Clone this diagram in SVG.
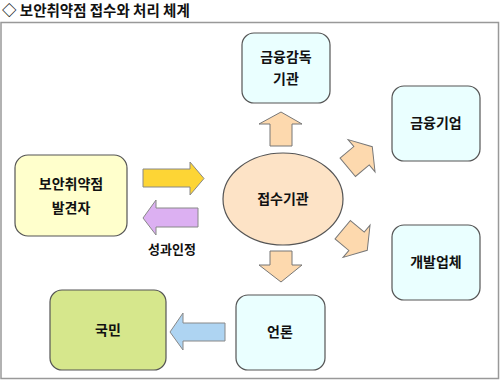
<svg xmlns="http://www.w3.org/2000/svg" width="500" height="381" viewBox="0 0 500 381">
<defs>
<style>
text{font-family:"Noto Sans CJK KR","Noto Sans",sans-serif;font-weight:bold;fill:#111;}
.lbl{font-size:14px;text-anchor:middle;}
.box{fill:#eaffff;stroke:#555;stroke-width:1.2;}
.peach{fill:#fdd9ae;stroke:#777;stroke-width:1;}
</style>
<path id="blk" d="M-16,-12 L2,-12 L2,-21 L16,0 L2,21 L2,12 L-16,12 Z"/>
</defs>
<rect x="0" y="0" width="500" height="381" fill="#fff"/>
<text x="2" y="16" style="font-size:14.5px">◇ 보안취약점 접수와 처리 체계</text>
<rect x="1" y="22.5" width="497.5" height="356" fill="none" stroke="#999" stroke-width="1.5"/>

<g id="connectors">
<path d="M143,169 L190,169 L190,162 L204,178.5 L190,195 L190,187 L143,187 Z" fill="#fdd535" stroke="#888" stroke-width="1"/>
<path d="M198,208 L156,208 L156,200 L143,218 L156,235 L156,227 L198,227 Z" fill="#dcb0f2" stroke="#888" stroke-width="1"/>
<text class="lbl" x="172" y="254" style="font-size:13px">성과인정</text>
<path d="M259,124 L281,112 L302,124 L292,124 L292,146 L270,146 L270,124 Z" class="peach"/>
<path d="M270,251 L292,251 L292,265 L302,265 L281,282 L259,265 L270,265 Z" class="peach"/>
<use href="#blk" class="peach" transform="translate(360,157) rotate(-40)"/>
<use href="#blk" class="peach" transform="translate(355,240) rotate(40)"/>
<path d="M225,323 L183,323 L183,313 L170,332 L183,350 L183,341 L225,341 Z" fill="#aed4f2" stroke="#888" stroke-width="1"/>
</g>

<g id="n-supervisor">
<rect class="box" x="242" y="33" width="88" height="70" rx="12"/>
<text class="lbl" x="286" y="62">금융감독</text>
<text class="lbl" x="286" y="84">기관</text>
</g>
<g id="n-finance">
<rect class="box" x="392" y="86" width="88" height="75" rx="12"/>
<text class="lbl" x="436" y="128">금융기업</text>
</g>
<g id="n-developer">
<rect class="box" x="392" y="225" width="88" height="75" rx="12"/>
<text class="lbl" x="436" y="267">개발업체</text>
</g>
<g id="n-finder">
<rect x="15" y="155" width="112" height="81" rx="13" fill="#ffffcc" stroke="#555" stroke-width="1.2"/>
<text class="lbl" x="71" y="189">보안취약점</text>
<text class="lbl" x="71" y="213">발견자</text>
</g>
<g id="n-center">
<ellipse cx="283" cy="199" rx="60" ry="46" fill="#fde3c6" stroke="#555" stroke-width="1.2"/>
<text class="lbl" x="283" y="204">접수기관</text>
</g>
<g id="n-press">
<rect class="box" x="236" y="295" width="89" height="75" rx="12"/>
<text class="lbl" x="280" y="337">언론</text>
</g>
<g id="n-public">
<rect x="50" y="290" width="116" height="80" rx="12" fill="#d6e78c" stroke="#555" stroke-width="1.2"/>
<text class="lbl" x="108" y="335">국민</text>
</g>
</svg>
